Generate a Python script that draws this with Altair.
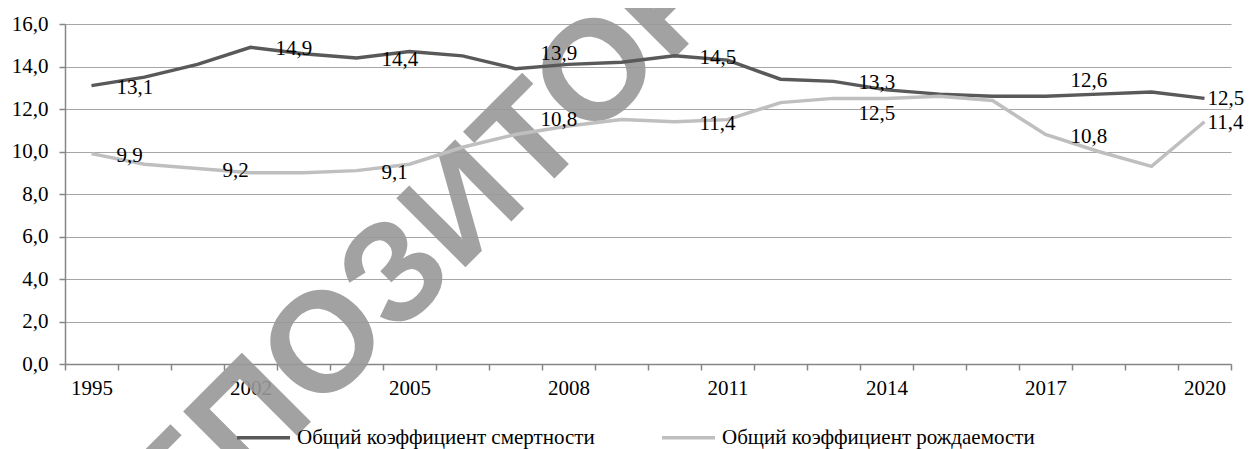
import altair as alt
import pandas as pd

years = ["1995", "2000", "2001", "2002", "2003", "2004", "2005", "2006", "2007", "2008",
         "2009", "2010", "2011", "2012", "2013", "2014", "2015", "2016", "2017", "2018",
         "2019", "2020"]
mortality = [13.1, 13.5, 14.1, 14.9, 14.6, 14.4, 14.7, 14.5, 13.9, 14.1,
             14.2, 14.5, 14.3, 13.4, 13.3, 12.9, 12.7, 12.6, 12.6, 12.7,
             12.8, 12.5]
birth = [9.9, 9.4, 9.2, 9.0, 9.0, 9.1, 9.4, 10.2, 10.8, 11.2,
         11.5, 11.4, 11.5, 12.3, 12.5, 12.5, 12.6, 12.4, 10.8, 10.0,
         9.3, 11.4]

series_names = ["Общий коэффициент смертности", "Общий коэффициент рождаемости"]
series_colors = ["#595959", "#bfbfbf"]
shown_year_labels = ["1995", "2002", "2005", "2008", "2011", "2014", "2017", "2020"]
y_ticks = [0, 2, 4, 6, 8, 10, 12, 14, 16]
watermark_text = ["РЕПОЗИТОРИЙ"]

# which points carry a value label, and where the label sits
mort_label_years = ["1995", "2002", "2004", "2007", "2010", "2013", "2017", "2020"]
mort_label_side = ["right", "right", "right", "above", "right", "right", "above", "end"]
birth_label_years = ["1995", "2001", "2004", "2007", "2010", "2013", "2017", "2020"]
birth_label_side = ["right", "right", "right", "above", "right", "below", "right", "end"]

rows = []
for yr, v in zip(years, mortality):
    side = mort_label_side[mort_label_years.index(yr)] if yr in mort_label_years else "none"
    rows.append({"year": yr, "value": v, "series": series_names[0], "side": side})
for yr, v in zip(years, birth):
    side = birth_label_side[birth_label_years.index(yr)] if yr in birth_label_years else "none"
    rows.append({"year": yr, "value": v, "series": series_names[1], "side": side})
df = pd.DataFrame(rows)

FONT = "Liberation Serif"
FS = 21
label_expr = "indexof(" + str(shown_year_labels) + ", datum.label) >= 0 ? datum.label : ''"

x_enc = alt.X(
    "year:N",
    sort=years,
    bandPosition=0.5,
    scale=alt.Scale(type="band", paddingInner=0, paddingOuter=0),
    axis=alt.Axis(
        title=None,
        tickBand="extent",
        labelExpr=label_expr,
        labelAngle=0,
        grid=False,
        tickSize=6,
        labelPadding=7,
    ),
)
y_enc = alt.Y(
    "value:Q",
    scale=alt.Scale(domain=[0, 16], nice=False),
    axis=alt.Axis(
        title=None,
        values=y_ticks,
        labelExpr="replace(format(datum.value, '.1f'), '.', ',')",
        tickSize=6,
        labelPadding=11,
        grid=True,
    ),
)
color_enc = alt.Color(
    "series:N",
    scale=alt.Scale(domain=series_names, range=series_colors),
    legend=alt.Legend(
        title=None,
        orient="none",
        legendX=170,
        legendY=385,
        padding=0,
        direction="horizontal",
        symbolType="stroke",
        symbolSize=2809,
        symbolStrokeWidth=3.5,
        labelFont=FONT,
        labelFontSize=FS,
        labelColor="black",
        labelOffset=5,
        labelLimit=500,
        columnPadding=60,
    ),
)

base = alt.Chart(df)

watermark = alt.Chart(pd.DataFrame({"t": watermark_text})).mark_text(
    font="Liberation Sans", fontWeight="bold", fontSize=142, angle=315,
    align="center", baseline="middle", color="#999999", opacity=0.9,
).encode(text="t:N", x=alt.value(400), y=alt.value(183))

line_mort = base.transform_filter(alt.datum.series == series_names[0]).mark_line(
    strokeWidth=3.5).encode(x=x_enc, y=y_enc, color=color_enc)
line_birth = base.transform_filter(alt.datum.series == series_names[1]).mark_line(
    strokeWidth=3.5).encode(x=x_enc, y=y_enc, color=color_enc)

labels_base = base.transform_calculate(
    label="replace(format(datum.value, '.1f'), '.', ',')"
)


def text_layer(side, dx, dy):
    return labels_base.transform_filter(alt.datum.side == side).mark_text(
        align="left", baseline="middle", dx=dx, dy=dy, font=FONT, fontSize=FS, color="black"
    ).encode(x=x_enc, y=y_enc, text="label:N")


chart = alt.layer(
    watermark,
    line_mort,
    line_birth,
    text_layer("right", 25, 2),
    text_layer("above", 25, -15),
    text_layer("below", 25, 16),
    text_layer("end", 3, 1),
).properties(
    width=1166,
    height=340,
    autosize=alt.AutoSizeParams(type="none"),
    padding={"left": 57, "top": 16, "right": 17, "bottom": 85},
).configure_view(
    stroke=None
).configure_axis(
    labelFont=FONT,
    labelFontSize=FS,
    labelColor="black",
    domainColor="#868686",
    domainWidth=1.5,
    tickColor="#868686",
    tickWidth=1.5,
    gridColor="#a6a6a6",
    gridWidth=1.2,
)

chart.save("out.html", embed_options={"renderer": "svg", "actions": False})
